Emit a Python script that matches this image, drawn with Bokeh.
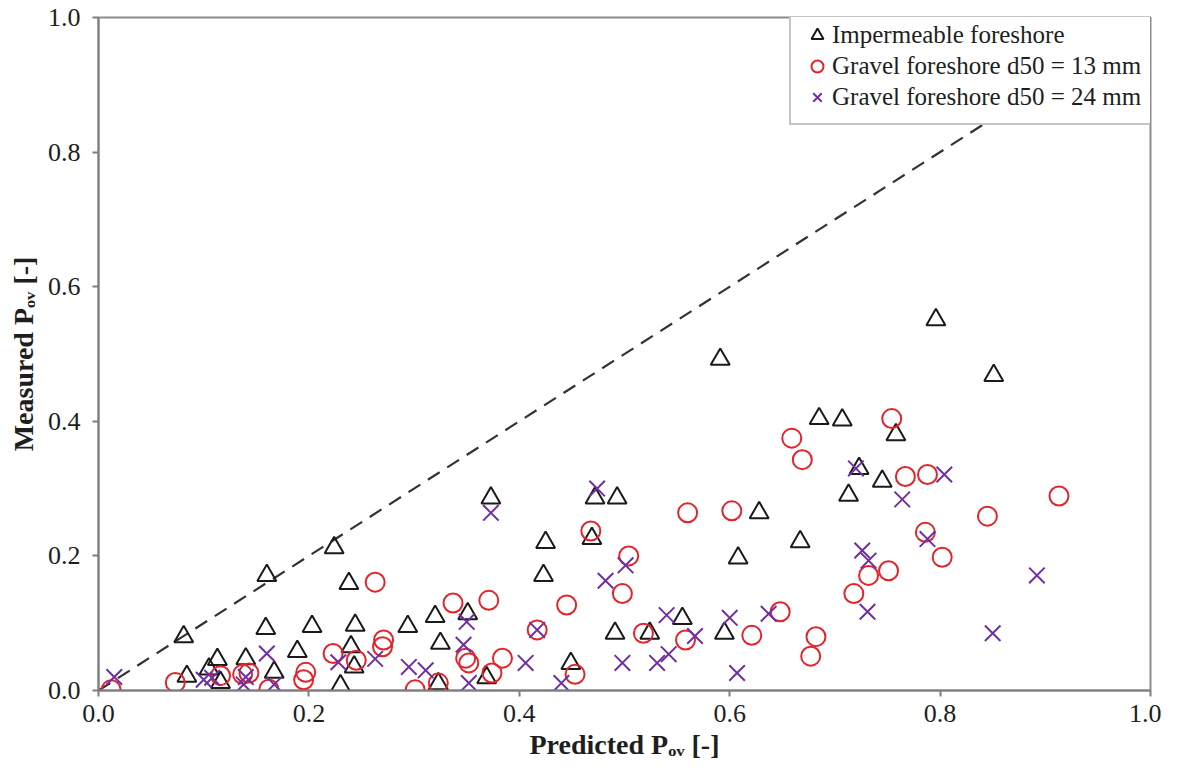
from bokeh.plotting import figure
from bokeh.models import Range1d, Legend, LegendItem, FixedTicker
from bokeh.embed import file_html
from bokeh.resources import INLINE

# ---------------- data ----------------
imp_x = [0.081, 0.084, 0.105, 0.113, 0.116, 0.140, 0.159, 0.160, 0.167, 0.189,
         0.203, 0.224, 0.230, 0.238, 0.240, 0.243, 0.244, 0.294, 0.320, 0.325,
         0.323, 0.351, 0.369, 0.373, 0.423, 0.425, 0.449, 0.469, 0.472, 0.493,
         0.491, 0.524, 0.555, 0.591, 0.595, 0.608, 0.628, 0.667, 0.685, 0.707,
         0.713, 0.723, 0.745, 0.758, 0.796, 0.851]
imp_y = [0.080, 0.021, 0.032, 0.046, 0.012, 0.047, 0.092, 0.171, 0.027, 0.058,
         0.095, 0.212, 0.007, 0.159, 0.065, 0.035, 0.097, 0.095, 0.110, 0.070,
         0.010, 0.114, 0.019, 0.286, 0.171, 0.220, 0.040, 0.226, 0.286, 0.286,
         0.085, 0.085, 0.107, 0.492, 0.085, 0.197, 0.264, 0.221, 0.404, 0.402,
         0.290, 0.330, 0.311, 0.380, 0.551, 0.468]

g13_x = [0.012, 0.073, 0.116, 0.137, 0.143, 0.162, 0.195, 0.197, 0.223, 0.245,
         0.263, 0.270, 0.271, 0.301, 0.323, 0.337, 0.349, 0.352, 0.371, 0.374,
         0.384, 0.417, 0.445, 0.453, 0.468, 0.498, 0.504, 0.518, 0.558, 0.560,
         0.602, 0.621, 0.648, 0.659, 0.669, 0.677, 0.682, 0.718, 0.732, 0.751,
         0.754, 0.767, 0.786, 0.788, 0.802, 0.845, 0.913]
g13_y = [0.001, 0.012, 0.022, 0.024, 0.026, 0.002, 0.016, 0.027, 0.055, 0.045,
         0.161, 0.065, 0.075, 0.001, 0.011, 0.130, 0.048, 0.041, 0.134, 0.026,
         0.048, 0.090, 0.127, 0.024, 0.237, 0.144, 0.200, 0.085, 0.075, 0.264,
         0.267, 0.082, 0.117, 0.375, 0.343, 0.051, 0.080, 0.144, 0.171, 0.178,
         0.404, 0.318, 0.235, 0.321, 0.198, 0.259, 0.289]

g24_x = [0.015, 0.100, 0.108, 0.140, 0.138, 0.160, 0.167, 0.228, 0.263, 0.295,
         0.311, 0.347, 0.350, 0.352, 0.373, 0.406, 0.417, 0.440, 0.474, 0.482,
         0.498, 0.501, 0.531, 0.540, 0.542, 0.567, 0.600, 0.607, 0.637, 0.720,
         0.726, 0.731, 0.732, 0.764, 0.788, 0.804, 0.850, 0.892]
g24_y = [0.020, 0.016, 0.019, 0.020, 0.009, 0.055, 0.009, 0.042, 0.047, 0.035,
         0.030, 0.068, 0.102, 0.011, 0.264, 0.041, 0.090, 0.011, 0.300, 0.163,
         0.041, 0.186, 0.041, 0.112, 0.054, 0.081, 0.108, 0.026, 0.114, 0.330,
         0.208, 0.117, 0.193, 0.284, 0.225, 0.321, 0.085, 0.171]

line_x = [0.0, 1.0]
line_y = [0.0, 1.0]

tick_values = [0.0, 0.2, 0.4, 0.6, 0.8, 1.0]
tick_labels = ["0.0", "0.2", "0.4", "0.6", "0.8", "1.0"]

series_names = ["Impermeable foreshore",
                "Gravel foreshore d50 = 13 mm",
                "Gravel foreshore d50 = 24 mm"]

x_title = "Predicted P\u2092\u1d65 [-]"
y_title = "Measured P\u2092\u1d65 [-]"

# ---------------- figure ----------------
FONT = "Liberation Serif"
TXT = "#1e1e1e"

p = figure(frame_width=1052, frame_height=673,
           min_border_left=98, min_border_right=11,
           min_border_top=17, min_border_bottom=74,
           x_range=Range1d(0, 1), y_range=Range1d(0, 1),
           output_backend="svg", toolbar_location=None,
           background_fill_color="white", border_fill_color="white")

p.grid.visible = False
p.outline_line_color = "#8c8c8c"
p.outline_line_width = 2

for ax in (p.xaxis[0], p.yaxis[0]):
    ax.ticker = FixedTicker(ticks=tick_values)
    ax.major_label_overrides = {v: l for v, l in zip(tick_values, tick_labels)}
    ax.minor_tick_line_color = None
    ax.major_tick_in = 0
    ax.major_tick_out = 6
    ax.major_tick_line_color = "#7f7f7f"
    ax.major_tick_line_width = 2
    ax.axis_line_color = "#7f7f7f"
    ax.axis_line_width = 2
    ax.major_label_text_font = FONT
    ax.major_label_text_font_size = "26px"
    ax.major_label_text_color = TXT
    ax.axis_label_text_font = FONT
    ax.axis_label_text_font_style = "bold"
    ax.axis_label_text_font_size = "28px"
    ax.axis_label_text_color = TXT

p.xaxis.major_label_standoff = 8
p.yaxis.major_label_standoff = 12
p.xaxis.axis_label = x_title
p.yaxis.axis_label = y_title
p.xaxis.axis_label_standoff = 4
p.yaxis.axis_label_standoff = 6

# 1:1 line
p.line(line_x, line_y, line_color="#333333", line_width=2.2, line_dash="14 9")

r_imp = p.scatter(imp_x, imp_y, marker="triangle", size=19,
                  fill_color=None, line_color="#1a1a1a", line_width=2)
r_g13 = p.scatter(g13_x, g13_y, marker="circle", size=19,
                  fill_color=None, line_color="#e3242b", line_width=2)
r_g24 = p.scatter(g24_x, g24_y, marker="x", size=22,
                  line_color="#7030a0", line_width=2)

legend = Legend(items=[LegendItem(label=series_names[0], renderers=[r_imp]),
                       LegendItem(label=series_names[1], renderers=[r_g13]),
                       LegendItem(label=series_names[2], renderers=[r_g24])],
                location=(691, 565))
legend.margin = 0
legend.padding = 11
legend.spacing = 1
legend.glyph_width = 30
legend.glyph_height = 30
legend.label_standoff = -10
legend.label_width = 300
legend.label_height = 30
legend.label_text_font = FONT
legend.label_text_font_size = "25px"
legend.label_text_color = TXT
legend.border_line_color = "#8c8c8c"
legend.border_line_width = 2
legend.background_fill_color = "white"
legend.background_fill_alpha = 1.0
p.add_layout(legend)

open("out.html", "w").write(file_html(p, INLINE))
